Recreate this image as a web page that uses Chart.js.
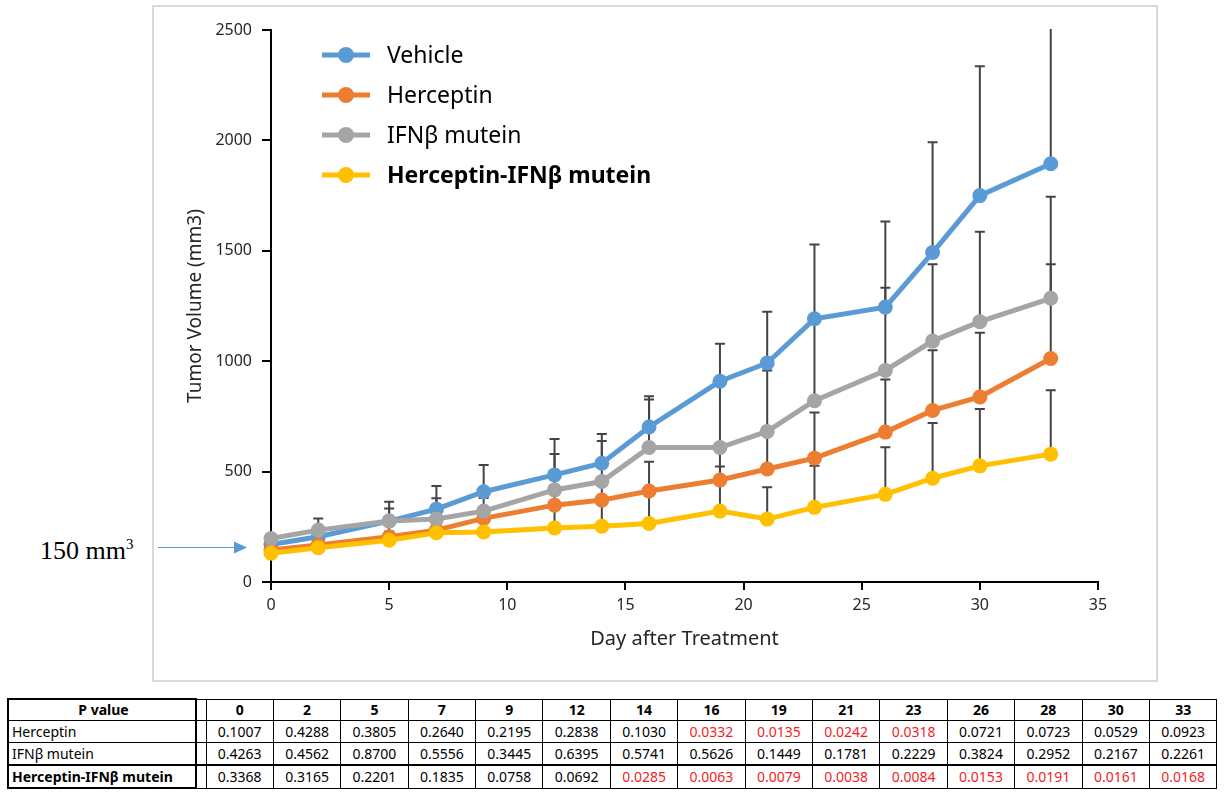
<!DOCTYPE html>
<html><head><meta charset="utf-8">
<script src="https://cdn.jsdelivr.net/npm/chart.js@4.4.0/dist/chart.umd.min.js"></script>
<style>
html,body{margin:0;padding:0;background:#fff;width:1226px;height:792px;overflow:hidden;font-family:'Noto Sans',sans-serif;}
#box{position:absolute;left:152px;top:5px;width:1002px;height:673px;border:2px solid #d9d9d9;}
#cv{position:absolute;left:0;top:0;}
#anno{position:absolute;left:40px;top:529px;font-family:'Liberation Serif',serif;font-size:26px;line-height:30px;color:#000;white-space:nowrap;}
#anno span{font-size:15px;vertical-align:10px;}
table{position:absolute;left:7px;top:698px;border-collapse:collapse;font-family:'Noto Sans',sans-serif;font-size:14px;color:#000;table-layout:fixed;}
td{border:1px solid #000;height:21px;padding:0;text-align:center;line-height:20px;white-space:nowrap;overflow:hidden;}
td.lab{text-align:left;padding-left:3px;border-left:2px solid #000;border-right:2px solid #000;}
tr.hd td{font-weight:bold;height:19px;}
tr.hd td.lab{text-align:center;border-top:2px solid #000;}
tr.bold td{border-top:2px solid #000;border-bottom:1px solid #000;}
tr.bold td.lab{font-weight:bold;border-bottom:2px solid #000;}
td.gap{border-left:2px solid #000;}
td.red{color:#f01e1e;}
</style>
</head><body>
<div id="box"><canvas id="cv" width="1002" height="673"></canvas></div>
<div id="anno">150 mm<span>3</span></div>
<table id="tbl"></table>
<script>
// ---- data ----
const days = [0, 2, 5, 7, 9, 12, 14, 16, 19, 21, 23, 26, 28, 30, 33];
const seriesNames = ['Vehicle', 'Herceptin', 'IFNβ mutein', 'Herceptin-IFNβ mutein'];
const vehicle   = [170, 205, 276, 330, 409, 485, 538, 702, 909, 992, 1192, 1245, 1492, 1750, 1894];
const herceptin = [145, 168, 205, 235, 288, 348, 371, 412, 462, 512, 561, 679, 777, 838, 1012];
const ifn       = [197, 235, 276, 285, 321, 417, 455, 609, 609, 682, 821, 958, 1091, 1179, 1285];
const combo     = [130, 155, 189, 223, 227, 245, 253, 265, 321, 285, 338, 397, 470, 526, 579];
// upper error values
const vehicleErr   = [15, 30, 88, 105, 121, 163, 132, 139, 170, 232, 337, 388, 500, 586, 700];
const herceptinErr = [15, 25, 50, 40, 30, 70, 70, 133, 140, 165, 207, 238, 273, 291, 427];
const ifnErr       = [15, 53, 57, 94, 60, 163, 184, 217, 290, 276, 365, 375, 348, 407, 460];
const comboErr     = [15, 20, 40, 35, 50, 100, 110, 140, 202, 144, 188, 213, 250, 257, 289];
// P-value table
const pDays = ['0','2','5','7','9','12','14','16','19','21','23','26','28','30','33'];
const pHerceptin = ['0.1007','0.4288','0.3805','0.2640','0.2195','0.2838','0.1030','0.0332','0.0135','0.0242','0.0318','0.0721','0.0723','0.0529','0.0923'];
const pIfn       = ['0.4263','0.4562','0.8700','0.5556','0.3445','0.6395','0.5741','0.5626','0.1449','0.1781','0.2229','0.3824','0.2952','0.2167','0.2261'];
const pCombo     = ['0.3368','0.3165','0.2201','0.1835','0.0758','0.0692','0.0285','0.0063','0.0079','0.0038','0.0084','0.0153','0.0191','0.0161','0.0168'];
const yTicks = [0, 500, 1000, 1500, 2000, 2500];
const xTicks = [0, 5, 10, 15, 20, 25, 30, 35];
const ANNOT_VALUE = 158;

const colors = ['#5B9BD5', '#ED7D31', '#A5A5A5', '#FFC000'];
const values = [vehicle, herceptin, ifn, combo];
const errs = [vehicleErr, herceptinErr, ifnErr, comboErr];

// ---- table ----
(function(){
  const t = document.getElementById('tbl');
  let html = '<colgroup><col style="width:188px"><col style="width:10px">' + pDays.map(()=>'<col style="width:67.4px">').join('') + '</colgroup>';
  html += '<tr class="hd"><td class="lab">P value</td><td class="gap"></td>' + pDays.map(d=>'<td>'+d+'</td>').join('') + '</tr>';
  const rows = [['Herceptin', pHerceptin, ''], ['IFNβ mutein', pIfn, ''], ['Herceptin-IFNβ mutein', pCombo, 'bold']];
  rows.forEach(r=>{
    html += '<tr class="'+r[2]+'"><td class="lab">'+r[0]+'</td><td class="gap"></td>' +
      r[1].map(v=>'<td class="'+(parseFloat(v)<0.05?'red':'')+'">'+v+'</td>').join('') + '</tr>';
  });
  t.innerHTML = html;
})();

// ---- plugins ----
const errorBars = {
  id: 'errorBars',
  beforeDatasetsDraw(chart){
    const {ctx, chartArea:a, scales:{x, y}} = chart;
    ctx.save();
    ctx.beginPath(); ctx.rect(a.left, a.top - 1, a.right - a.left, a.bottom - a.top + 1); ctx.clip();
    ctx.strokeStyle = '#444'; ctx.lineWidth = 2;
    chart.data.datasets.forEach(ds=>{
      ds.data.forEach((p, j)=>{
        const px = x.getPixelForValue(p.x), py = y.getPixelForValue(p.y), pt = y.getPixelForValue(p.y + ds.errPlus[j]);
        ctx.beginPath();
        ctx.moveTo(px, py); ctx.lineTo(px, pt);
        ctx.moveTo(px - 5, pt); ctx.lineTo(px + 5, pt);
        ctx.stroke();
      });
    });
    ctx.restore();
  }
};
const legendAndArrow = {
  id: 'legendAndArrow',
  afterDraw(chart){
    const {ctx, chartArea:a, scales:{y}} = chart;
    ctx.save();
    seriesNames.forEach((name, i)=>{
      const cy = 48 + i * 40;
      const x0 = a.left + 51, x1 = a.left + 99;
      ctx.strokeStyle = colors[i]; ctx.lineWidth = 5; ctx.lineCap = 'butt';
      ctx.beginPath(); ctx.moveTo(x0, cy); ctx.lineTo(x1, cy); ctx.stroke();
      ctx.fillStyle = colors[i];
      ctx.beginPath(); ctx.arc((x0 + x1) / 2, cy, 8, 0, Math.PI * 2); ctx.fill();
      ctx.fillStyle = '#000';
      ctx.font = (i === 3 ? 'bold ' : '') + '23px "Noto Sans"';
      ctx.textBaseline = 'middle'; ctx.textAlign = 'left';
      ctx.fillText(name, a.left + 116, cy + 1);
    });
    const ay = Math.round(y.getPixelForValue(ANNOT_VALUE)) + 0.5;
    const tip = a.left - 24;
    ctx.strokeStyle = '#5B9BD5'; ctx.lineWidth = 1;
    ctx.beginPath(); ctx.moveTo(4, ay); ctx.lineTo(tip - 10, ay); ctx.stroke();
    ctx.fillStyle = '#5B9BD5';
    ctx.beginPath(); ctx.moveTo(tip, ay); ctx.lineTo(tip - 13, ay - 6); ctx.lineTo(tip - 13, ay + 6); ctx.closePath(); ctx.fill();
    ctx.restore();
  }
};

const datasets = seriesNames.map((name, i)=>({
  label: name,
  data: days.map((d, j)=>({x: d, y: values[i][j]})),
  errPlus: errs[i],
  borderColor: colors[i],
  backgroundColor: colors[i],
  borderWidth: 5,
  pointRadius: 7.5,
  pointHoverRadius: 7.5,
  pointBorderWidth: 0,
  tension: 0,
  order: 4 - i
}));

new Chart(document.getElementById('cv'), {
  type: 'line',
  data: { datasets },
  plugins: [errorBars, legendAndArrow],
  options: {
    responsive: false,
    animation: false,
    clip: false,
    layout: { padding: { top: 23, right: 58, left: 0, bottom: 0 } },
    plugins: { legend: { display: false }, tooltip: { enabled: false } },
    scales: {
      x: {
        type: 'linear', min: 0, max: 35,
        afterBuildTicks: s => { s.ticks = xTicks.map(v=>({value: v})); },
        afterFit: s => { s.height = 98; },
        border: { display: true, color: '#000', width: 2 },
        grid: { display: true, drawOnChartArea: false, drawTicks: true, tickLength: 8, color: '#000', lineWidth: 2 },
        ticks: { color: '#262626', font: { family: 'Noto Sans', size: 16 }, padding: 6, callback: v => String(v) },
        title: { display: true, text: 'Day after Treatment', color: '#262626', font: { family: 'Noto Sans', size: 20 }, padding: { top: 0, bottom: 29 } }
      },
      y: {
        type: 'linear', min: 0, max: 2500,
        afterBuildTicks: s => { s.ticks = yTicks.map(v=>({value: v})); },
        afterFit: s => { s.width = 117; },
        border: { display: true, color: '#000', width: 2 },
        grid: { display: true, drawOnChartArea: false, drawTicks: true, tickLength: 9, color: '#000', lineWidth: 2 },
        ticks: { color: '#262626', font: { family: 'Noto Sans', size: 16 }, padding: 10, callback: v => String(v) },
        title: { display: true, text: 'Tumor Volume (mm3)', color: '#262626', font: { family: 'Noto Sans', size: 19 }, padding: { top: 30, bottom: 0 } }
      }
    }
  }
});
</script>
</body></html>
